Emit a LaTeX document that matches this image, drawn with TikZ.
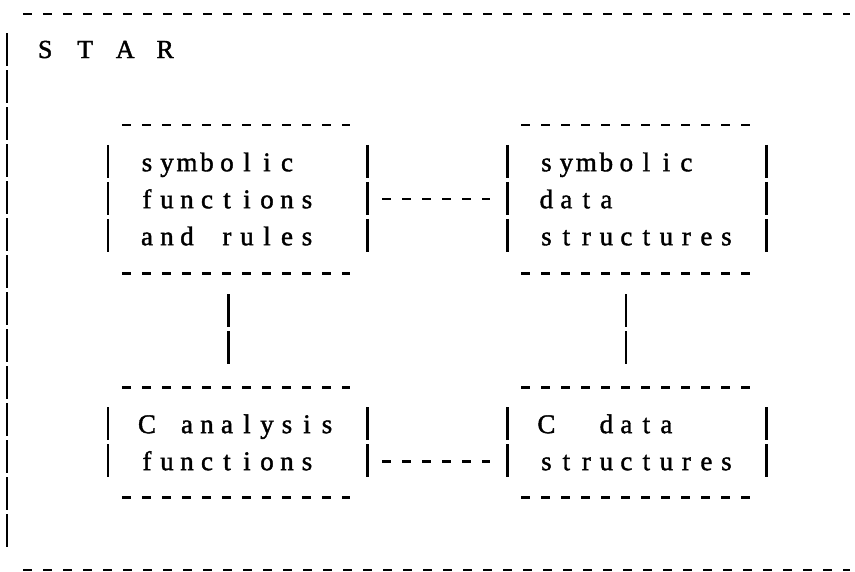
\documentclass[tikz,border=0pt]{standalone}
\usepackage{fontspec}
\setmainfont{Liberation Serif}[FakeBold=1.5]
\usetikzlibrary{positioning}

% one typewriter cell per character, ~ for a blank cell
\makeatletter
\newcommand\cells[1]{\cells@#1\relax}
\def\cells@#1{\ifx#1\relax\else\makebox[20pt][c]{#1}\expandafter\cells@\fi}
\makeatother

\begin{document}
\begin{tikzpicture}[x=1pt, y=-1pt, part/.style={inner ysep=0pt, inner xsep=29pt, text width=201pt, align=left, font=\fontsize{27}{37}\selectfont}, dashline/.style={line width=2.6pt, dash pattern=on 9pt off 11pt}, barline/.style={line width=2.6pt, dash pattern=on 33pt off 4pt}]
\useasboundingbox (0,0) rectangle (855,571);
% outer frame
\coordinate (top left) at (23,14);
\coordinate (top right) at (850,14);
\coordinate (bottom left) at (23,570);
\coordinate (bottom right) at (850,570);
\coordinate (bar top) at (7,33);
\coordinate (bar bottom) at (7,548);
\draw[dashline] (top left) -- (top right);
\draw[dashline] (bottom left) -- (bottom right);
\draw[barline] (bar top) -- (bar bottom);
\node[inner sep=0pt, anchor=base west, font=\fontsize{26}{37}\selectfont] (star) at (35,58) {\cells{S~T~A~R}};
% the four parts
\node[part, minimum height=148pt] (symfun) at (237.5,199) {\cells{symbolic}\\\cells{functions}\\\cells{and~rules}};
\node[part, minimum height=148pt, right=140pt of symfun] (symdat) {\cells{symbolic}\\\cells{data}\\\cells{structures}};
\node[part, minimum height=110pt, below=114pt of symfun] (cfun) {\cells{C~analysis}\\\cells{functions}};
\node[part, minimum height=110pt, below=114pt of symdat] (cdat) {\cells{C~~data}\\\cells{structures}};
\foreach \b in {symfun, symdat, cfun, cdat} {
  \draw[dashline] ([xshift=14pt]\b.north west) -- ([xshift=-17pt]\b.north east);
  \draw[dashline] ([xshift=14pt]\b.south west) -- ([xshift=-17pt]\b.south east);
  \draw[barline] ([yshift=-20pt]\b.north west) -- ([yshift=20pt]\b.south west);
  \draw[barline] ([yshift=-20pt]\b.north east) -- ([yshift=20pt]\b.south east);
}
% links
\draw[dashline, shorten <=15pt, shorten >=17pt] (symfun) -- (symdat);
\draw[dashline, shorten <=15pt, shorten >=17pt] ([yshift=-19pt]cfun.east) -- ([yshift=-19pt]cdat.west);
\draw[barline, shorten <=21pt, shorten >=23pt] ([xshift=-9pt]symfun.south) -- ([xshift=-9pt]cfun.north);
\draw[barline, shorten <=21pt, shorten >=23pt] ([xshift=-11pt]symdat.south) -- ([xshift=-11pt]cdat.north);
\end{tikzpicture}
\end{document}
